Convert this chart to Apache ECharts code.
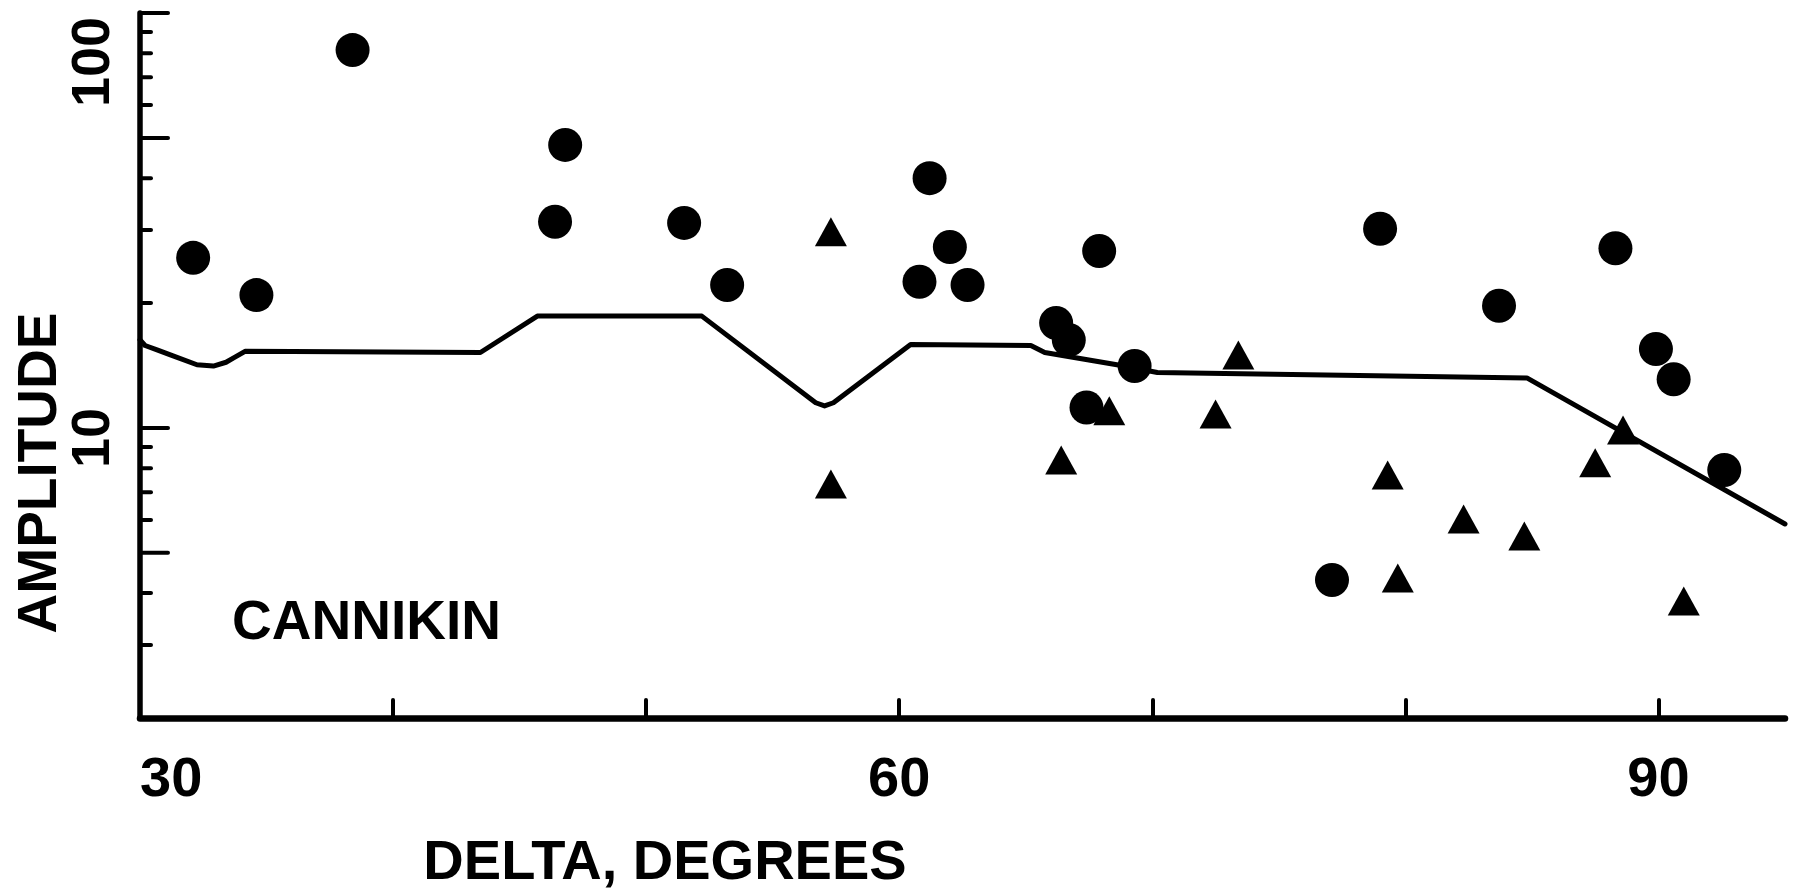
<!DOCTYPE html>
<html>
<head>
<meta charset="utf-8">
<script src="https://cdn.jsdelivr.net/npm/echarts@6/dist/echarts.min.js"></script>
<style>
html,body{margin:0;padding:0;background:#fff;}
#c{width:1794px;height:894px;}
</style>
</head>
<body>
<div id="c"></div>
<script>
// ---- data (DELTA in degrees, AMPLITUDE on log scale) ----
const circleDelta = [32.1, 34.6, 38.4, 46.4, 46.8, 51.5, 53.2, 61.2, 60.8, 62.0, 62.7, 66.2, 66.7, 67.9, 69.3, 67.4, 79.0, 83.7, 88.3, 89.9, 90.6, 92.6, 77.1];
const circleAmp   = [25.7, 20.9, 81.4, 31.4, 48.1, 31.2, 22.1, 40.0, 22.5, 27.3, 22.1, 17.9, 16.3, 26.7, 14.1, 11.2, 30.2, 19.7, 27.1, 15.5, 13.1, 7.92, 4.30];

const triangleDelta = [57.3, 57.3, 66.4, 68.3, 73.4, 72.5, 79.3, 79.7, 82.3, 84.7, 87.5, 88.6, 91.0];
const triangleAmp   = [29.7, 7.33, 8.37, 11.0, 15.0, 10.8, 7.70, 4.35, 6.03, 5.49, 8.24, 9.89, 3.83];

const curveDelta = [30.0, 30.2, 30.7, 31.2, 32.25, 32.9, 33.4, 33.7, 34.15, 43.45, 45.7, 52.2, 56.7, 57.05, 57.4, 60.45, 65.2, 65.75, 68.6, 70.2, 84.8, 95.0];
const curveAmp   = [16.3, 15.8, 15.4, 15.0, 14.2, 14.1, 14.4, 14.75, 15.3, 15.2, 18.6, 18.6, 11.5, 11.3, 11.5, 15.9, 15.8, 15.2, 14.2, 13.6, 13.2, 5.87];

const xTickValues  = [40, 50, 60, 70, 80, 90];
const xLabelValues = [30, 60, 90];
const xLabelTexts  = ['30', '60', '90'];

const yMajorTicks = [5, 10, 50, 100];
const yMinorTicks = [3, 4, 6, 7, 8, 9, 20, 30, 40, 60, 70, 80, 90];
const yLabelValues = [10, 100];
const yLabelTexts  = ['10', '100'];

const X_MIN = 30, X_MAX = 95, Y_MIN = 2, Y_MAX = 100;

const FONT = '"Liberation Sans", "DejaVu Sans", Arial, sans-serif';

const chart = echarts.init(document.getElementById('c'), null, {renderer: 'canvas'});

const tickData = yMajorTicks.map(v => [X_MIN, v, 1]).concat(yMinorTicks.map(v => [X_MIN, v, 0]));
const yLabelData = yLabelValues.map(v => [X_MIN, v]);

chart.setOption({
  backgroundColor: '#ffffff',
  animation: false,
  grid: {left: 140, right: 9, top: 13, bottom: 176, containLabel: false, outerBoundsMode: 'none'},
  xAxis: {
    type: 'value', min: X_MIN, max: X_MAX,
    axisLine: {show: true, onZero: false, lineStyle: {color: '#000', width: 6.5, cap: 'round'}},
    axisTick: {show: true, inside: true, length: 18, customValues: xTickValues,
      lineStyle: {color: '#000', width: 4, cap: 'round'}},
    axisLabel: {
      show: true, customValues: xLabelValues,
      formatter: v => { const i = xLabelValues.indexOf(v); return i >= 0 ? xLabelTexts[i] : ''; },
      margin: 35, color: '#000', fontFamily: FONT, fontWeight: 'bold', fontSize: 56,
      alignMinLabel: 'left'
    },
    splitLine: {show: false}
  },
  yAxis: {
    type: 'log', logBase: 10, min: Y_MIN, max: Y_MAX,
    axisLine: {show: true, lineStyle: {color: '#000', width: 5.5, cap: 'round'}},
    axisTick: {show: false},
    axisLabel: {show: false},
    splitLine: {show: false},
    minorTick: {show: false}
  },
  graphic: [
    {type: 'text', x: 41, y: 473, rotation: Math.PI / 2,
      style: {text: 'AMPLITUDE', font: 'bold 55px ' + FONT, fill: '#000',
        align: 'center', verticalAlign: 'middle', textAlign: 'center', textVerticalAlign: 'middle'}},
    {type: 'text', x: 665, y: 864,
      style: {text: 'DELTA, DEGREES', font: 'bold 56px ' + FONT, fill: '#000',
        align: 'center', verticalAlign: 'middle', textAlign: 'center', textVerticalAlign: 'middle'}},
    {type: 'text', x: 232, y: 624,
      style: {text: 'CANNIKIN', font: 'bold 55px ' + FONT, fill: '#000',
        align: 'left', verticalAlign: 'middle', textAlign: 'left', textVerticalAlign: 'middle'}}
  ],
  series: [
    {
      name: 'curve', type: 'line', smooth: false, symbol: 'none', z: 2,
      data: curveDelta.map((d, i) => [d, curveAmp[i]]),
      lineStyle: {color: '#000', width: 5, join: 'round', cap: 'round'}
    },
    {
      name: 'circles', type: 'scatter', symbol: 'circle', symbolSize: 34, z: 3,
      data: circleDelta.map((d, i) => [d, circleAmp[i]]),
      itemStyle: {color: '#000', opacity: 1}
    },
    {
      name: 'triangles', type: 'scatter', symbol: 'triangle', symbolSize: [32, 29], z: 3,
      data: triangleDelta.map((d, i) => [d, triangleAmp[i]]),
      itemStyle: {color: '#000', opacity: 1}
    },
    {
      name: 'yTicks', type: 'custom', z: 4, silent: true,
      encode: {x: 0, y: 1},
      data: tickData,
      renderItem: function (params, api) {
        const p = api.coord([api.value(0), api.value(1)]);
        const len = api.value(2) ? 28 : 11;
        return {type: 'line',
          shape: {x1: p[0], y1: p[1], x2: p[0] + len, y2: p[1]},
          style: {stroke: '#000', lineWidth: 4, lineCap: 'round'}};
      }
    },
    {
      name: 'yLabels', type: 'custom', z: 4, silent: true, clip: false,
      encode: {x: 0, y: 1},
      data: yLabelData,
      renderItem: function (params, api) {
        const v = api.value(1);
        const p = api.coord([api.value(0), v]);
        const isTop = v >= Y_MAX;
        return {type: 'text', x: p[0] - 46, y: isTop ? p[1] + 4 : p[1] + 10, rotation: Math.PI / 2,
          style: {text: yLabelTexts[params.dataIndex], font: 'bold 54px ' + FONT, fill: '#000',
            align: isTop ? 'right' : 'center', verticalAlign: 'middle',
            textAlign: isTop ? 'right' : 'center', textVerticalAlign: 'middle'}};
      }
    }
  ]
});
</script>
</body>
</html>
